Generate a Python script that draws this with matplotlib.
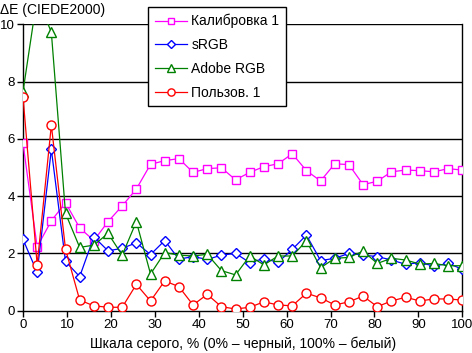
import numpy as np
import matplotlib
matplotlib.use("Agg")
import matplotlib.pyplot as plt

plt.rcParams['font.family'] = ['Liberation Sans', 'DejaVu Sans']

# 32 уровня серого, от 0% до 100%
x = np.linspace(0, 100, 32)

calib = [5.84, 2.23, 3.14, 3.77, 2.89, 2.45, 3.11, 3.66, 4.25, 5.11, 5.24, 5.31,
         4.83, 4.96, 4.99, 4.57, 4.83, 5.03, 5.13, 5.48, 4.89, 4.53, 5.13, 5.10,
         4.40, 4.52, 4.85, 4.91, 4.89, 4.85, 4.96, 4.91]
srgb = [2.49, 1.34, 5.63, 1.72, 1.19, 2.58, 2.09, 2.18, 2.37, 1.96, 2.45, 1.80,
        1.89, 1.79, 1.94, 2.00, 1.68, 1.82, 1.69, 2.14, 2.64, 1.75, 1.83, 2.00,
        1.94, 1.89, 1.77, 1.62, 1.68, 1.56, 1.65, 1.45]
adobe = [7.65, 10.95, 9.72, 3.40, 2.21, 2.29, 2.70, 1.94, 3.11, 1.28, 2.03, 1.94,
         1.91, 1.97, 1.40, 1.25, 1.91, 1.60, 1.91, 1.91, 2.44, 1.50, 1.83, 1.86,
         2.08, 1.65, 1.83, 1.77, 1.63, 1.65, 1.57, 1.57]
user = [7.47, 1.60, 6.48, 2.15, 0.37, 0.17, 0.12, 0.12, 0.92, 0.34, 1.04, 0.84,
        0.20, 0.57, 0.14, 0.06, 0.12, 0.31, 0.20, 0.17, 0.61, 0.45, 0.20, 0.31,
        0.51, 0.14, 0.34, 0.47, 0.34, 0.41, 0.41, 0.37]

series = [
    ("Калибровка 1", calib, "#FF00FF", "s", 6),
    ("sRGB", srgb, "#0000FF", "D", 5),
    ("Adobe RGB", adobe, "#008000", "^", 7),
    ("Пользов. 1", user, "#FF0000", "o", 6.5),
]

fig = plt.figure(figsize=(4.72, 3.53), dpi=100)
ax = fig.add_axes([23 / 472, 1 - 310.7 / 353, (462.3 - 23) / 472, (310.7 - 24.3) / 353])

for y in [2, 4, 6, 8, 10]:
    ax.axhline(y, color="black", lw=1.0, zorder=1)

for name, vals, col, mk, ms in series:
    ax.plot(x, vals, color=col, lw=0.9, marker=mk, ms=ms, mfc="white",
            mec=col, mew=1.0, label=name, zorder=3)

ax.set_xlim(0, 100)
ax.set_ylim(0, 10)
ax.set_xticks(range(0, 101, 10))
ax.set_yticks(range(0, 11, 2))
ax.spines["top"].set_visible(False)
for s in ["left", "right", "bottom"]:
    ax.spines[s].set_linewidth(1.0)
ax.tick_params(direction="out", length=4, width=1, labelsize=9.5, pad=2)

fig.text(0.0, 1 - 10 / 353, "ΔE (CIEDE2000)", fontsize=10, va="center", ha="left")
ax.set_xlabel("Шкала серого, % (0% – черный, 100% – белый)", fontsize=10, labelpad=4)

leg = ax.legend(loc="upper left", bbox_to_anchor=(148.3 / 472, 1 - 7 / 353),
                bbox_transform=fig.transFigure, fontsize=10, frameon=True,
                fancybox=False, framealpha=1, edgecolor="black",
                handlelength=2.3, handletextpad=0.3, labelspacing=0.7,
                borderpad=0.5, borderaxespad=0, markerscale=0.8)
leg.get_frame().set_linewidth(1.0)
leg.set_zorder(5)

fig.savefig("out.png", dpi=100)
